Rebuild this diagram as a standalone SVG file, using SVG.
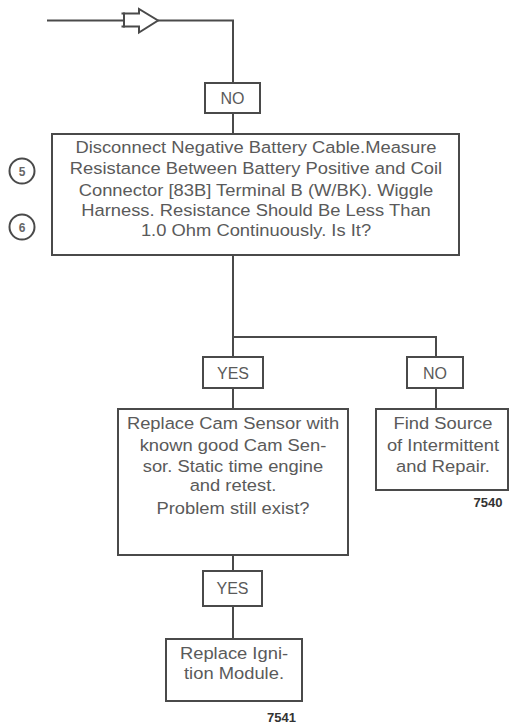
<svg xmlns="http://www.w3.org/2000/svg" width="512" height="728" viewBox="0 0 512 728">
<style>
.box{fill:#fff;stroke:#4a4a4a;stroke-width:2}
.ln{fill:none;stroke:#4a4a4a;stroke-width:2}
.t{font-family:"Liberation Sans",Arial,sans-serif;font-size:17px;fill:#5a5a5a;text-anchor:middle}
.lb{font-family:"Liberation Sans",Arial,sans-serif;font-size:16px;fill:#5a5a5a;text-anchor:middle}
.num{font-family:"Liberation Sans",Arial,sans-serif;font-size:13px;font-weight:bold;fill:#333;text-anchor:middle}
.cn{font-family:"Liberation Sans",Arial,sans-serif;font-size:12px;font-weight:bold;fill:#666;text-anchor:middle}
.c{fill:#fff;stroke:#4a4a4a;stroke-width:2}
</style>
<rect width="512" height="728" fill="#fff"/>
<g id="connectors">
<path class="ln" d="M47 20.5H123"/>
<path class="ln" d="M158 20.5H233V83"/>
<path class="ln" d="M233 113V134"/>
<path class="ln" d="M233 255V337H436V357"/>
<path class="ln" d="M233 337V357"/>
<path class="ln" d="M233 388V409"/>
<path class="ln" d="M436 388V409"/>
<path class="ln" d="M233 555V571"/>
<path class="ln" d="M233 606V639"/>
<polygon class="box" stroke-width="1.6" points="124,13.5 139,13.5 139,9 158,20.5 139,32.5 139,26.5 124,26.5"/>
<path class="ln" stroke-width="1.6" d="M121.5 13.5H125M121.5 26.5H125"/>
</g>
<g id="no1">
<rect class="box" x="205" y="83" width="55" height="30"/>
<text class="lb" x="232.5" y="104">NO</text>
</g>
<g id="main">
<rect class="box" x="52" y="134" width="407" height="121"/>
<g transform="translate(256,0) scale(1.08,1)">
<text class="t" x="0" y="153">Disconnect Negative Battery Cable.Measure</text>
<text class="t" x="0" y="174">Resistance Between Battery Positive and Coil</text>
<text class="t" x="0" y="196">Connector [83B] Terminal B (W/BK). Wiggle</text>
<text class="t" x="0" y="216">Harness. Resistance Should Be Less Than</text>
<text class="t" x="0" y="236">1.0 Ohm Continuously. Is It?</text>
</g>
</g>
<g id="step5">
<circle class="c" cx="22" cy="171" r="12.5"/>
<text class="cn" x="22" y="175.5">5</text>
</g>
<g id="step6">
<circle class="c" cx="22" cy="227" r="12.5"/>
<text class="cn" x="22" y="231.5">6</text>
</g>
<g id="yes1">
<rect class="box" x="203" y="357" width="60" height="31"/>
<text class="lb" x="233" y="378.5">YES</text>
</g>
<g id="no2">
<rect class="box" x="407" y="357" width="56" height="31"/>
<text class="lb" x="435" y="378.5">NO</text>
</g>
<g id="cam">
<rect class="box" x="118" y="409" width="230" height="146"/>
<g transform="translate(233,0) scale(1.08,1)">
<text class="t" x="0" y="429">Replace Cam Sensor with</text>
<text class="t" x="0" y="451">known good Cam Sen-</text>
<text class="t" x="0" y="472">sor. Static time engine</text>
<text class="t" x="0" y="491">and retest.</text>
<text class="t" x="0" y="514">Problem still exist?</text>
</g>
</g>
<g id="find">
<rect class="box" x="376" y="409" width="132" height="81"/>
<g transform="translate(443,0) scale(1.08,1)">
<text class="t" x="0" y="429">Find Source</text>
<text class="t" x="0" y="451">of Intermittent</text>
<text class="t" x="0" y="472">and Repair.</text>
</g>
</g>
<text class="num" x="488" y="507">7540</text>
<g id="yes2">
<rect class="box" x="203" y="571" width="59" height="35"/>
<text class="lb" x="232.5" y="594">YES</text>
</g>
<g id="ign">
<rect class="box" x="166" y="639" width="136" height="62"/>
<g transform="translate(234,0) scale(1.08,1)">
<text class="t" x="0" y="659">Replace Igni-</text>
<text class="t" x="0" y="679">tion Module.</text>
</g>
</g>
<text class="num" x="281.5" y="722">7541</text>
</svg>
